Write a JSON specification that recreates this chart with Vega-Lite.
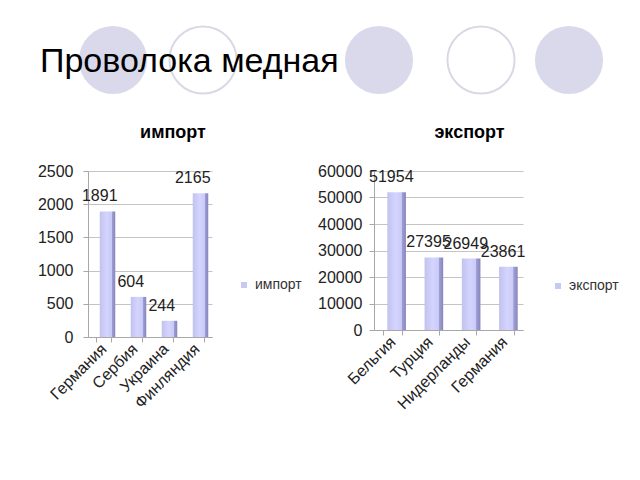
{
  "$schema": "https://vega.github.io/schema/vega-lite/v6.json",
  "padding": 0,
  "background": "white",
  "config": {
    "view": {"stroke": null},
    "font": "Liberation Sans",
    "axis": {"labelFont": "Liberation Sans", "labelFontSize": 16, "labelColor": "#222", "domainColor": "#a8a8a8", "tickColor": "#a8a8a8", "gridColor": "#c4c4c4", "title": null},
    "title": {"font": "Liberation Sans", "fontSize": 18, "fontWeight": "bold", "color": "#000"}
  },
  "datasets": {
    "circles": [
      {"x": 113, "y": 60, "kind": "filled"},
      {"x": 203, "y": 60, "kind": "outline"},
      {"x": 379, "y": 60, "kind": "filled"},
      {"x": 481, "y": 60, "kind": "outline"},
      {"x": 569, "y": 60, "kind": "filled"}
    ],
    "heading": [{"x": 40, "y": 72, "text": "Проволока медная"}],
    "imp": [
      {"country": "Германия", "value": 1891, "series": "импорт"},
      {"country": "Сербия", "value": 604, "series": "импорт"},
      {"country": "Украина", "value": 244, "series": "импорт"},
      {"country": "Финляндия", "value": 2165, "series": "импорт"}
    ],
    "exp": [
      {"country": "Бельгия", "value": 51954, "series": "экспорт"},
      {"country": "Турция", "value": 27395, "series": "экспорт"},
      {"country": "Нидерланды", "value": 26949, "series": "экспорт"},
      {"country": "Германия", "value": 23861, "series": "экспорт"}
    ]
  },
  "spacing": 0,
  "vconcat": [
    {
      "width": 552,
      "height": 124,
      "layer": [
        {
          "data": {"name": "circles"},
          "transform": [{"filter": "datum.kind === 'filled'"}],
          "mark": {"type": "point", "shape": "circle", "filled": true, "size": 4650, "color": "#d9d9eb", "opacity": 1},
          "encoding": {
            "x": {"field": "x", "type": "quantitative", "scale": {"domain": [88, 640], "nice": false, "zero": false}, "axis": null},
            "y": {"field": "y", "type": "quantitative", "scale": {"domain": [0, 124], "nice": false, "zero": false, "reverse": true},
              "axis": {"minExtent": 88, "maxExtent": 88, "labels": false, "ticks": false, "domain": false, "grid": false}}
          }
        },
        {
          "data": {"name": "circles"},
          "transform": [{"filter": "datum.kind === 'outline'"}],
          "mark": {"type": "point", "shape": "circle", "filled": false, "size": 4500, "stroke": "#d9d9e6", "strokeWidth": 2, "opacity": 1},
          "encoding": {
            "x": {"field": "x", "type": "quantitative"},
            "y": {"field": "y", "type": "quantitative"}
          }
        },
        {
          "data": {"name": "heading"},
          "mark": {"type": "text", "align": "left", "baseline": "alphabetic", "fontSize": 34, "font": "Liberation Sans", "color": "#000", "clip": false},
          "encoding": {
            "x": {"field": "x", "type": "quantitative"},
            "y": {"field": "y", "type": "quantitative"},
            "text": {"field": "text"}
          }
        }
      ]
    },
    {
      "spacing": 0,
      "resolve": {"scale": {"color": "independent"}, "legend": {"color": "independent"}},
      "hconcat": [
        {
          "data": {"name": "imp"},
          "width": 124,
          "height": 166,
          "title": {"text": "импорт", "offset": 21, "dx": 23, "anchor": "middle", "frame": "group"},
          "encoding": {
            "x": {"field": "country", "type": "nominal", "sort": null,
              "scale": {"paddingInner": 0.5, "paddingOuter": 0.25},
              "axis": {"labelAngle": -45, "labelAlign": "right", "labelBaseline": "middle", "labelPadding": 4, "tickBand": "extent", "tickSize": 5, "grid": false}},
            "y": {"field": "value", "type": "quantitative",
              "scale": {"domain": [0, 2500], "nice": false},
              "axis": {"values": [0, 500, 1000, 1500, 2000, 2500], "format": "d", "tickSize": 5, "labelPadding": 10, "minExtent": 88, "maxExtent": 88, "grid": true}}
          },
          "layer": [
            {
              "mark": {"type": "bar", "color": {"gradient": "linear", "x1": 0, "x2": 1, "y1": 0, "y2": 0, "stops": [
                {"offset": 0, "color": "#c2c2ee"}, {"offset": 0.45, "color": "#d4d4ff"}, {"offset": 0.76, "color": "#cacaf8"},
                {"offset": 0.78, "color": "#a0a0d6"}, {"offset": 1, "color": "#8686bc"}]}},
              "encoding": {"xOffset": {"value": 4}}
            },
            {
              "mark": {"type": "bar", "opacity": 0},
              "encoding": {
                "xOffset": {"value": 4},
                "color": {"field": "series", "type": "nominal", "scale": {"range": ["#c8c8f4"]},
                  "legend": {"title": null, "orient": "none", "legendX": 149, "legendY": 107, "symbolType": "square", "symbolSize": 36, "symbolOpacity": 1, "symbolStrokeWidth": 0, "labelFontSize": 14, "labelColor": "#333", "labelOffset": 4, "labelFont": "Liberation Sans"}}
              }
            },
            {
              "mark": {"type": "text", "baseline": "bottom", "dy": -7, "fontSize": 16, "color": "#222"},
              "encoding": {"xOffset": {"value": 4}, "text": {"field": "value", "type": "quantitative", "format": "d"}}
            }
          ]
        },
        {
          "data": {"name": "exp"},
          "width": 149,
          "height": 159,
          "title": {"text": "экспорт", "offset": 21, "dx": 21, "anchor": "middle", "frame": "group"},
          "encoding": {
            "x": {"field": "country", "type": "nominal", "sort": null,
              "scale": {"paddingInner": 0.5, "paddingOuter": 0.25},
              "axis": {"labelAngle": -45, "labelAlign": "right", "labelBaseline": "middle", "labelPadding": 4, "tickBand": "extent", "tickSize": 5, "grid": false}},
            "y": {"field": "value", "type": "quantitative",
              "scale": {"domain": [0, 60000], "nice": false},
              "axis": {"values": [0, 10000, 20000, 30000, 40000, 50000, 60000], "format": "d", "tickSize": 5, "labelPadding": 7, "minExtent": 72, "maxExtent": 72, "grid": true}}
          },
          "layer": [
            {
              "mark": {"type": "bar", "color": {"gradient": "linear", "x1": 0, "x2": 1, "y1": 0, "y2": 0, "stops": [
                {"offset": 0, "color": "#c2c2ee"}, {"offset": 0.45, "color": "#d4d4ff"}, {"offset": 0.76, "color": "#cacaf8"},
                {"offset": 0.78, "color": "#a0a0d6"}, {"offset": 1, "color": "#8686bc"}]}},
              "encoding": {"xOffset": {"value": 4}}
            },
            {
              "mark": {"type": "bar", "opacity": 0},
              "encoding": {
                "xOffset": {"value": 4},
                "color": {"field": "series", "type": "nominal", "scale": {"range": ["#c8c8f4"]},
                  "legend": {"title": null, "orient": "none", "legendX": 177, "legendY": 108, "symbolType": "square", "symbolSize": 36, "symbolOpacity": 1, "symbolStrokeWidth": 0, "labelFontSize": 14, "labelColor": "#333", "labelOffset": 4, "labelFont": "Liberation Sans"}}
              }
            },
            {
              "mark": {"type": "text", "baseline": "bottom", "dy": -7, "dx": 4, "fontSize": 16, "color": "#222"},
              "encoding": {"xOffset": {"value": 4}, "text": {"field": "value", "type": "quantitative", "format": "d"}}
            }
          ]
        }
      ]
    }
  ]
}
